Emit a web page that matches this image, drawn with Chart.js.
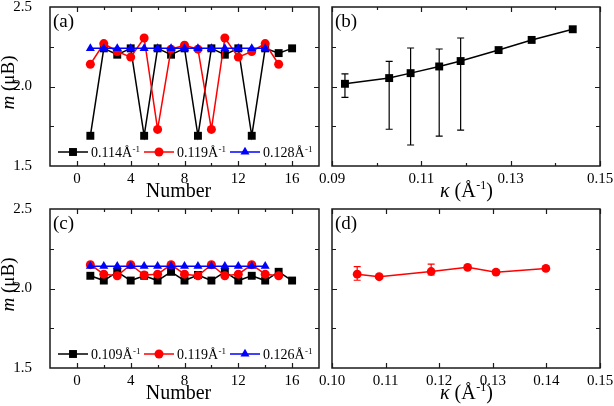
<!DOCTYPE html>
<html>
<head>
<meta charset="utf-8">
<script src="https://cdn.jsdelivr.net/npm/chart.js@4.4.0/dist/chart.umd.min.js"></script>
<style>
  html, body { margin: 0; padding: 0; background: #fff; }
  #wrap { position: relative; width: 614px; height: 406px; }
  #wrap canvas { position: absolute; left: 0; top: 0; }
</style>
</head>
<body>
<div id="wrap">
  <canvas id="pa" width="614" height="406"></canvas>
  <canvas id="pb" width="614" height="406"></canvas>
  <canvas id="pc" width="614" height="406"></canvas>
  <canvas id="pd" width="614" height="406"></canvas>
</div>
<script>
// ---- data ----
// panel (a): moment per site
const numA = [1, 2, 3, 4, 5, 6, 7, 8, 9, 10, 11, 12, 13, 14, 15, 16];
const mA114 = [1.69, 2.24, 2.20, 2.24, 1.69, 2.24, 2.20, 2.24, 1.69, 2.24, 2.20, 2.24, 1.69, 2.24, 2.21, 2.24];
const mA119 = [2.14, 2.27, 2.22, 2.185, 2.305, 1.73, 2.235, 2.26, 2.235, 1.73, 2.305, 2.185, 2.22, 2.27, 2.14];
const mA128 = [2.24, 2.24, 2.24, 2.24, 2.24, 2.24, 2.24, 2.24, 2.24, 2.24, 2.24, 2.24, 2.24, 2.24];
const legendA = ['0.114', '0.119', '0.128'];

// panel (c): moment per site
const mC109 = [2.08, 2.05, 2.105, 2.05, 2.08, 2.05, 2.105, 2.05, 2.085, 2.05, 2.105, 2.05, 2.08, 2.05, 2.105, 2.05];
const mC119 = [2.15, 2.09, 2.08, 2.15, 2.085, 2.09, 2.15, 2.09, 2.08, 2.15, 2.08, 2.09, 2.15, 2.09, 2.08];
const mC126 = [2.14, 2.14, 2.14, 2.14, 2.14, 2.14, 2.14, 2.14, 2.14, 2.14, 2.14, 2.14, 2.14, 2.14];
const legendC = ['0.109', '0.119', '0.126'];

// panel (b): average moment vs kappa, with spread
const kappaB = [0.0929, 0.1028, 0.1076, 0.1140, 0.1188, 0.1273, 0.1347, 0.1439];
const mB = [2.017, 2.053, 2.084, 2.126, 2.160, 2.229, 2.293, 2.360];
const mBHigh = [2.080, 2.158, 2.242, 2.236, 2.305, null, null, null];
const mBLow = [1.931, 1.731, 1.632, 1.688, 1.726, null, null, null];

// panel (d)
const kappaD = [0.1047, 0.1088, 0.1185, 0.1253, 0.1306, 0.1399];
const mD = [2.090, 2.074, 2.107, 2.133, 2.103, 2.126];
const mDHigh = [2.138, null, 2.153, null, 2.115, null];
const mDLow = [2.052, null, 2.085, null, 2.091, null];

// ticks
const numTicks = [0, 4, 8, 12, 16];
const numMinor = [2, 6, 10, 14];
const mTicks = [1.5, 2.0, 2.5];
const mMinor = [1.75, 2.25];
const kappaTicksB = [0.09, 0.11, 0.13, 0.15];
const kappaMinorB = [0.10, 0.12, 0.14];
const kappaTicksD = [0.10, 0.11, 0.12, 0.13, 0.14, 0.15];
const kappaMinorD = [];

const FONT = "'Liberation Serif', 'Times New Roman', serif";

// per-panel decorations, keyed by canvas id
const decor = {
  pa: { label: '(a)', xTitle: 'number', yTitle: true, legend: legendA,
        xMajor: numTicks, xMinor: numMinor },
  pb: { label: '(b)', xTitle: 'kappa', yTitle: false,
        xMajor: kappaTicksB, xMinor: kappaMinorB, high: mBHigh, low: mBLow, errColor: '#000' },
  pc: { label: '(c)', xTitle: 'number', yTitle: true, legend: legendC,
        xMajor: numTicks, xMinor: numMinor },
  pd: { label: '(d)', xTitle: 'kappa', yTitle: false,
        xMajor: kappaTicksD, xMinor: kappaMinorD, high: mDHigh, low: mDLow, errColor: '#ff0000' }
};

function marker(ctx, style, r, x, y) {
  ctx.beginPath();
  if (style === 'rect') {
    const s = r * Math.SQRT1_2;
    ctx.rect(x - s, y - s, 2 * s, 2 * s);
  } else if (style === 'triangle') {
    for (let k = 0; k < 3; k++) {
      const t = k * 2 * Math.PI / 3;
      const px = x + Math.sin(t) * r, py = y - Math.cos(t) * r;
      if (k === 0) ctx.moveTo(px, py); else ctx.lineTo(px, py);
    }
    ctx.closePath();
  } else {
    ctx.arc(x, y, r, 0, Math.PI * 2);
  }
  ctx.fill();
}

// draws "base" followed by a superscript, returns end x
function supText(ctx, x, y, base, sup, size) {
  ctx.font = size + 'px ' + FONT;
  ctx.fillText(base, x, y);
  x += ctx.measureText(base).width;
  ctx.font = Math.round(size * 0.62) + 'px ' + FONT;
  ctx.fillText(sup, x + 0.5, y - size * 0.38);
  return x + 0.5 + ctx.measureText(sup).width;
}

const panelDecor = {
  id: 'panelDecor',
  beforeDatasetsDraw(chart) {
    const d = decor[chart.canvas.id];
    if (!d.high) return;
    const ctx = chart.ctx, xs = chart.scales.x, ys = chart.scales.y;
    const xv = chart.data.datasets[0].data;
    ctx.save();
    ctx.strokeStyle = d.errColor;
    ctx.lineWidth = 1.2;
    ctx.beginPath();
    d.high.forEach((h, i) => {
      if (h === null) return;
      const px = xs.getPixelForValue(xv[i].x);
      const y1 = ys.getPixelForValue(h), y2 = ys.getPixelForValue(d.low[i]);
      ctx.moveTo(px, y1); ctx.lineTo(px, y2);
      ctx.moveTo(px - 3.5, y1); ctx.lineTo(px + 3.5, y1);
      ctx.moveTo(px - 3.5, y2); ctx.lineTo(px + 3.5, y2);
    });
    ctx.stroke();
    ctx.restore();
  },
  afterDraw(chart) {
    const d = decor[chart.canvas.id];
    const ctx = chart.ctx, a = chart.chartArea;
    const xs = chart.scales.x, ys = chart.scales.y;
    ctx.save();

    // frame
    ctx.strokeStyle = '#1a1a1a';
    ctx.lineWidth = 1.5;
    ctx.strokeRect(a.left, a.top, a.right - a.left, a.bottom - a.top);

    // inward ticks on all four sides
    ctx.lineWidth = 1.2;
    ctx.beginPath();
    const xt = (vals, len) => vals.forEach(v => {
      const p = Math.round(xs.getPixelForValue(v)) + 0.5;
      ctx.moveTo(p, a.bottom); ctx.lineTo(p, a.bottom - len);
      ctx.moveTo(p, a.top); ctx.lineTo(p, a.top + len);
    });
    const yt = (vals, len) => vals.forEach(v => {
      const p = Math.round(ys.getPixelForValue(v)) + 0.5;
      ctx.moveTo(a.left, p); ctx.lineTo(a.left + len, p);
      ctx.moveTo(a.right, p); ctx.lineTo(a.right - len, p);
    });
    xt(d.xMajor, 5); xt(d.xMinor, 3);
    yt(mTicks.slice(1, -1), 5); yt(mMinor, 4);
    ctx.stroke();

    ctx.fillStyle = '#000';
    ctx.textBaseline = 'alphabetic';

    // panel label
    ctx.font = '19px ' + FONT;
    ctx.textAlign = 'left';
    ctx.fillText(d.label, a.left + 3, a.top + 20);

    // x title
    const cx = (a.left + a.right) / 2;
    const by = a.bottom + 31;
    if (d.xTitle === 'number') {
      ctx.font = '20px ' + FONT;
      ctx.textAlign = 'center';
      ctx.fillText('Number', cx - 6, by);
    } else {
      ctx.textAlign = 'left';
      let x = cx - 26;
      ctx.font = 'italic 20px ' + FONT;
      ctx.fillText('κ', x, by);
      x += ctx.measureText('κ').width;
      x = supText(ctx, x, by, ' (Å', '-1', 20);
      ctx.font = '20px ' + FONT;
      ctx.fillText(')', x, by);
    }

    // y title, rotated
    if (d.yTitle) {
      ctx.save();
      ctx.textAlign = 'left';
      ctx.translate(14, (a.top + a.bottom) / 2 - 4);
      ctx.rotate(-Math.PI / 2);
      ctx.font = 'italic 19px ' + FONT;
      const w1 = ctx.measureText('m').width;
      ctx.font = '19px ' + FONT;
      const w2 = ctx.measureText(' (μB)').width;
      const x = -(w1 + w2) / 2;
      ctx.font = 'italic 19px ' + FONT;
      ctx.fillText('m', x, 0);
      ctx.font = '19px ' + FONT;
      ctx.fillText(' (μB)', x + w1, 0);
      ctx.restore();
    }

    // in-plot legend along the bottom
    if (d.legend) {
      const ly = a.bottom - 14;
      const lx = [58, 144, 230];
      d.legend.forEach((txt, i) => {
        const ds = chart.data.datasets[i];
        const x0 = lx[i];
        ctx.strokeStyle = ds.borderColor;
        ctx.lineWidth = 1.5;
        ctx.beginPath();
        ctx.moveTo(x0, ly); ctx.lineTo(x0 + 30, ly);
        ctx.stroke();
        ctx.fillStyle = ds.borderColor;
        marker(ctx, ds.pointStyle, ds.pointRadius, x0 + 15, ly);
        ctx.fillStyle = '#000';
        ctx.textAlign = 'left';
        supText(ctx, x0 + 33, ly + 5, txt + 'Å', '-1', 14);
      });
    }
    ctx.restore();
  }
};

function series(xv, yv, color, style, radius, order) {
  return {
    data: xv.slice(0, yv.length).map((x, i) => ({ x: x, y: yv[i] })),
    borderColor: color,
    backgroundColor: color,
    pointBackgroundColor: color,
    pointBorderColor: color,
    borderWidth: 1.5,
    pointStyle: style,
    pointRadius: radius,
    pointBorderWidth: 0,
    tension: 0,
    order: order
  };
}

function makeChart(id, datasets, xMin, xMax, xLabels, xFmt, showY, pad) {
  return new Chart(document.getElementById(id), {
    type: 'line',
    data: { datasets: datasets },
    options: {
      responsive: false,
      animation: false,
      devicePixelRatio: 1,
      layout: { padding: pad, autoPadding: false },
      plugins: { legend: { display: false }, tooltip: { enabled: false } },
      scales: {
        x: {
          type: 'linear', min: xMin, max: xMax,
          grid: { display: false, drawTicks: false },
          border: { display: false },
          ticks: { color: '#000', font: { family: FONT, size: 15 }, padding: 4,
                   maxRotation: 0, autoSkip: false, callback: xFmt },
          afterBuildTicks: s => { s.ticks = xLabels.map(v => ({ value: v })); },
          afterFit: s => { s.height = 30; s.paddingLeft = 0; s.paddingRight = 0; }
        },
        y: {
          display: showY,
          min: 1.5, max: 2.5,
          grid: { display: false, drawTicks: false },
          border: { display: false },
          ticks: { color: '#000', font: { family: FONT, size: 15 }, padding: 18,
                   callback: v => v.toFixed(1) },
          afterBuildTicks: s => { s.ticks = mTicks.map(v => ({ value: v })); },
          afterFit: s => {
            s.width = showY ? 50 : 0;
            s.paddingTop = 0; s.paddingBottom = 0;
          }
        }
      }
    },
    plugins: [panelDecor]
  });
}

makeChart('pa', [
  series(numA, mA114, '#000000', 'rect', 5.6, 2),
  series(numA, mA119, '#ff0000', 'circle', 4.5, 1),
  series(numA, mA128, '#0000ff', 'triangle', 5.2, 0)
], -2, 18, numTicks, v => String(v), true, { left: 0, top: 7, right: 295, bottom: 210 });

makeChart('pc', [
  series(numA, mC109, '#000000', 'rect', 5.6, 2),
  series(numA, mC119, '#ff0000', 'circle', 4.5, 1),
  series(numA, mC126, '#0000ff', 'triangle', 5.2, 0)
], -2, 18, numTicks, v => String(v), true, { left: 0, top: 209, right: 295, bottom: 8 });

makeChart('pb', [
  series(kappaB, mB, '#000000', 'rect', 5.6, 0)
], 0.09, 0.15, kappaTicksB, v => v.toFixed(2), false, { left: 332, top: 7, right: 14, bottom: 210 });

makeChart('pd', [
  series(kappaD, mD, '#ff0000', 'circle', 4.4, 0)
], 0.10, 0.15, kappaTicksD, v => v.toFixed(2), false, { left: 332, top: 209, right: 14, bottom: 8 });
</script>
</body>
</html>
